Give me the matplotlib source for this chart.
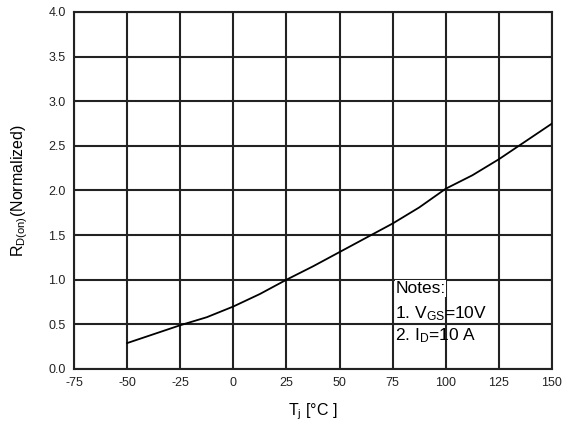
import matplotlib
matplotlib.use("Agg")
import matplotlib.pyplot as plt
import numpy as np

plt.rcParams['font.family'] = ['Liberation Sans', 'DejaVu Sans']
plt.rcParams['mathtext.fontset'] = 'custom'
plt.rcParams['mathtext.rm'] = 'Liberation Sans'
plt.rcParams['mathtext.it'] = 'Liberation Sans'
plt.rcParams['axes.unicode_minus'] = False

# junction temperature (C) and normalized on-resistance
temp = [-50, -37.5, -25, -12.5, 0, 12.5, 25, 37.5, 50, 62.5, 75, 87.5, 100, 112.5, 125, 137.5, 150]
rds = [0.29, 0.39, 0.49, 0.58, 0.70, 0.84, 1.0, 1.15, 1.31, 1.47, 1.63, 1.81, 2.02, 2.17, 2.35, 2.55, 2.75]

xticks = [-75, -50, -25, 0, 25, 50, 75, 100, 125, 150]
yticks = [0.0, 0.5, 1.0, 1.5, 2.0, 2.5, 3.0, 3.5, 4.0]

fig = plt.figure(figsize=(5.71, 4.28), dpi=100)
ax = fig.add_axes([0.1296, 0.1379, 0.8371, 0.8341])

ax.plot(temp, rds, color="black", lw=1.3, zorder=3)

ax.set_xlim(-75, 150)
ax.set_ylim(0, 4)
ax.set_xticks(xticks)
ax.set_yticks(yticks)
ax.set_yticklabels([f"{v:.1f}" for v in yticks])
ax.tick_params(length=0, labelsize=9, pad=6, labelcolor="#222222")
ax.grid(True, color="#222222", lw=1.5)
for s in ax.spines.values():
    s.set_color("#222222")
    s.set_linewidth(1.5)

ax.set_xlabel(r"T$_{\mathregular{j}}$ [°C ]", fontsize=11.5, labelpad=9)
ax.set_ylabel(r"R$_{\mathregular{D(on)}}$(Normalized)", fontsize=11.5, labelpad=13)

ax.text(76.3, 0.985, "Notes:", fontsize=12.5, va="top", ha="left", zorder=4,
        bbox=dict(facecolor="white", edgecolor="none", pad=0.5))
ax.text(76.3, 0.73, r"1. V$_{\mathregular{GS}}$=10V", fontsize=12.5, va="top", ha="left", zorder=4)
ax.text(76.3, 0.475, r"2. I$_{\mathregular{D}}$=10 A", fontsize=12.5, va="top", ha="left", zorder=4)

fig.savefig("out.png", dpi=100)
